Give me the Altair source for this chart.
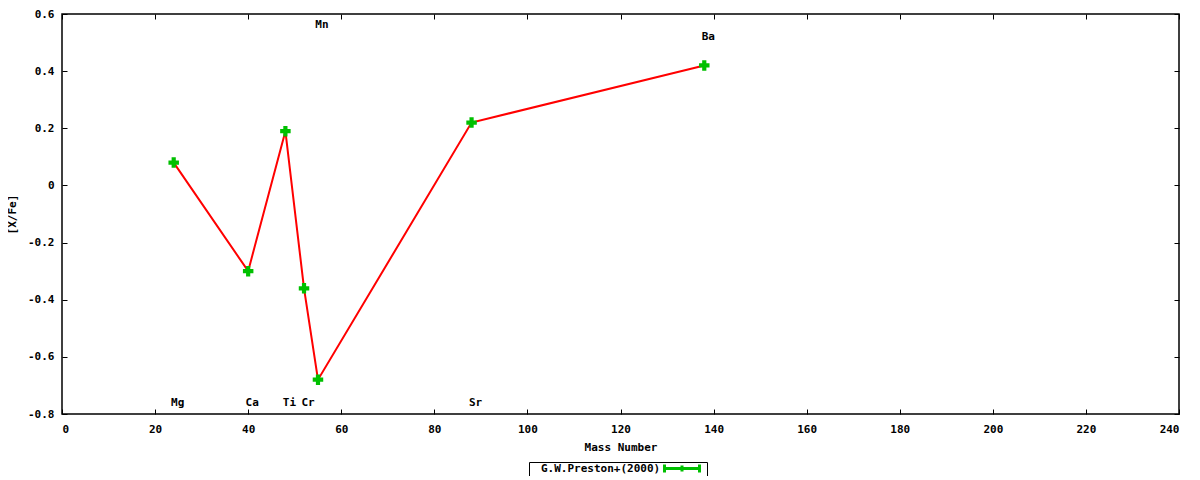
import altair as alt
import pandas as pd

elements = ["Mg", "Ca", "Ti", "Cr", "Mn", "Sr", "Ba"]
mass = [24, 40, 48, 52, 55, 88, 138]
xfe = [0.08, -0.30, 0.19, -0.36, -0.68, 0.22, 0.42]
label_y = [-0.76, -0.76, -0.76, -0.76, 0.56, -0.76, 0.52]
series = "G.W.Preston+(2000)"

x_ticks = [0, 20, 40, 60, 80, 100, 120, 140, 160, 180, 200, 220, 240]
y_ticks = [-0.8, -0.6, -0.4, -0.2, 0, 0.2, 0.4, 0.6]

df = pd.DataFrame({"el": elements, "mass": mass, "xfe": xfe,
                   "ly": label_y, "series": [series] * len(mass)})

FONT = "DejaVu Sans Mono"
W, H = 1117, 400

xscale = alt.Scale(domain=[0, 240], nice=False, zero=False)
yscale = alt.Scale(domain=[-0.8, 0.6], nice=False, zero=False)

xaxis = alt.Axis(values=x_ticks, title="Mass Number", ticks=False, domain=False,
                 labelPadding=9, titlePadding=7, grid=True, gridColor="black",
                 gridDash=[5, H - 10, 5, 3000], gridOpacity=1, gridWidth=1)
yaxis = alt.Axis(values=y_ticks, title="[X/Fe]", ticks=False, domain=False,
                 labelPadding=8, titleX=-50, titleY=H / 2, titleAngle=270,
                 titleAlign="center", titleBaseline="middle",
                 grid=True, gridColor="black",
                 gridDash=[5, W - 10, 5, 3000], gridOpacity=1, gridWidth=1,
                 labelExpr="replace(format(datum.value, '~g'), '\u2212', '-')")

base = alt.Chart(df)

line = base.mark_line(color="#ff0000", strokeWidth=2).encode(
    x=alt.X("mass:Q", scale=xscale, axis=xaxis),
    y=alt.Y("xfe:Q", scale=yscale, axis=yaxis),
    order="mass:Q",
)

legend_path = "M129,-4L129,4M129,0L164,0M164,-4L164,4M146.5,-3L146.5,3"

points = base.mark_point(shape="cross", filled=True, size=110, opacity=1).encode(
    x=alt.X("mass:Q", scale=xscale),
    y=alt.Y("xfe:Q", scale=yscale),
    color=alt.Color("series:N",
                    scale=alt.Scale(domain=[series], range=["#00c000"]),
                    legend=alt.Legend(title=None, orient="none", legendX=467, legendY=448,
                                      symbolType=legend_path,
                                      symbolFillColor="transparent",
                                      symbolStrokeColor="#00c000",
                                      labelOffset=0, padding=1, strokeColor="black",
                                      labelFont=FONT, labelFontSize=11,
                                      labelFontWeight="bold", labelColor="black")),
)

labels = base.mark_text(font=FONT, fontSize=11, fontWeight="bold", color="black",
                        align="center", baseline="middle", dx=4).encode(
    x=alt.X("mass:Q", scale=xscale),
    y=alt.Y("ly:Q", scale=yscale),
    text="el:N",
)

chart = alt.layer(line, points, labels).properties(
    width=W, height=H,
    autosize=alt.AutoSizeParams(type="none"),
    padding={"left": 54, "top": 6, "right": 13, "bottom": 62},
).configure_view(stroke="black", strokeWidth=1.5).configure_axis(
    labelFont=FONT, labelFontSize=11, labelFontWeight="bold", labelColor="black",
    titleFont=FONT, titleFontSize=11, titleFontWeight="bold", titleColor="black",
).configure_legend(symbolSize=4, symbolStrokeWidth=3)

chart.save("out.html", embed_options={"renderer": "svg", "actions": False})
